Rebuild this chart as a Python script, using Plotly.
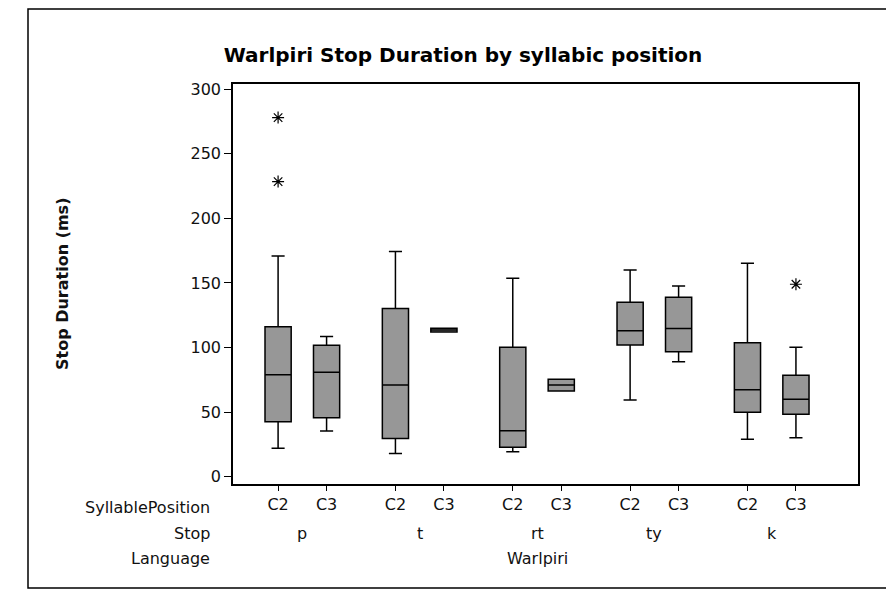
import plotly.graph_objects as go

# ── data ────────────────────────────────────────────────────────────
stops      = ["p", "t", "rt", "ty", "k"]
positions  = ["C2", "C3"]
language   = "Warlpiri"

# one entry per box, order: p-C2, p-C3, t-C2, t-C3, rt-C2, rt-C3, ty-C2, ty-C3, k-C2, k-C3
lower_whisk = [22.0, 35.4, 18.0, 112.0, 19.4, 66.4, 59.4, 89.0, 29.0, 30.2]
q1          = [42.6, 45.7, 29.7, 112.0, 22.8, 66.4, 102.0, 96.8, 49.9, 48.3]
median      = [79.0, 80.8, 71.0, 113.5, 35.7, 71.0, 113.0, 114.7, 67.4, 60.0]
q3          = [116.2, 101.8, 130.2, 115.0, 100.2, 75.4, 135.0, 139.0, 103.8, 78.5]
upper_whisk = [170.8, 108.5, 174.3, 115.0, 153.7, 75.4, 160.0, 147.7, 165.3, 100.2]

# outliers (box index, value)
out_box = [0, 0, 9]
out_val = [278.0, 228.5, 149.0]

y_ticks = [0, 50, 100, 150, 200, 250, 300]

# ── layout constants ───────────────────────────────────────────────
OFF = 8                                 # page body margin of the browser
W, H = 894 - OFF, 592 - OFF
L, R, T, B = 233 - OFF, 858 - OFF, 84 - OFF, 484 - OFF   # plot area in px
GROUP_STEP = 2.42                       # distance between stop groups (x units)
X_RANGE = [-0.93, 11.96]
Y_RANGE = [-5.6, 304]
FONT = "DejaVu Sans"

def px_x(p):  # screen pixel -> paper x
    return (p - OFF - L) / (R - L)

def px_y(p):  # screen pixel -> paper y
    return (B - (p - OFF)) / (B - T)

xpos = [g * GROUP_STEP + j for g in range(len(stops)) for j in range(len(positions))]
xlab = [pos for _ in stops for pos in positions]

fig = go.Figure()
fig.add_trace(go.Box(
    x=xpos, q1=q1, median=median, q3=q3,
    lowerfence=lower_whisk, upperfence=upper_whisk,
    width=0.54, fillcolor="#979797",
    line=dict(color="black", width=1.5),
    boxpoints=False, showlegend=False, hoverinfo="skip"))

fig.add_trace(go.Scatter(
    x=[xpos[i] for i in out_box], y=out_val, mode="markers",
    marker=dict(symbol="asterisk-open", size=10, color="black",
                line=dict(color="black", width=1.2)),
    showlegend=False, hoverinfo="skip"))

ann = []
lab_font = dict(family=FONT, size=16, color="#111")
# row labels on the left
for text, yp in [("SyllablePosition", 507), ("Stop", 533), ("Language", 558)]:
    ann.append(dict(text=text, x=px_x(212), y=px_y(yp), xref="paper", yref="paper",
                    xanchor="right", yanchor="middle", showarrow=False, font=lab_font))
# stop labels centred under each group
for g, s in enumerate(stops):
    ann.append(dict(text=s, x=g * GROUP_STEP + 0.5, y=px_y(533), xref="x", yref="paper",
                    xanchor="center", yanchor="middle", showarrow=False, font=lab_font))
ann.append(dict(text=language, x=(xpos[0] + xpos[-1]) / 2, y=px_y(558), xref="x",
                yref="paper", xanchor="center", yanchor="middle", showarrow=False,
                font=lab_font))
# y-axis title
ann.append(dict(text="<b>Stop Duration (ms)</b>", x=px_x(62), y=px_y(284), xref="paper",
                yref="paper", textangle=-90, xanchor="center", yanchor="middle",
                showarrow=False, font=dict(family=FONT, size=16, color="#111")))

# outer frame (left, top, bottom edges; right edge is off the scan)
frame = dict(type="rect", xref="paper", yref="paper",
             x0=px_x(28), x1=px_x(910), y0=px_y(588), y1=px_y(9),
             line=dict(color="black", width=1.5))

fig.update_layout(
    width=W, height=H,
    margin=dict(l=L, r=W - R, t=T, b=H - B),
    paper_bgcolor="white", plot_bgcolor="white",
    title=dict(text="<b>Warlpiri Stop Duration by syllabic position</b>",
               x=(463 - OFF) / W, xanchor="center", y=1 - (55 - OFF) / H,
               yanchor="middle", font=dict(family=FONT, size=20, color="black")),
    font=dict(family=FONT, size=16, color="#111"),
    annotations=ann, shapes=[frame],
)
fig.update_xaxes(range=X_RANGE, tickvals=xpos, ticktext=xlab, ticks="outside",
                 ticklen=5, tickcolor="black", showline=True, linecolor="black",
                 linewidth=1.5, mirror=True, showgrid=False, zeroline=False,
                 tickfont=lab_font)
fig.update_yaxes(range=Y_RANGE, tickvals=y_ticks, ticks="outside", ticklen=7,
                 tickcolor="black", showline=True, linecolor="black", linewidth=1.5,
                 mirror=True, showgrid=False, zeroline=False,
                 tickfont=lab_font)

fig.write_html("out.html")
